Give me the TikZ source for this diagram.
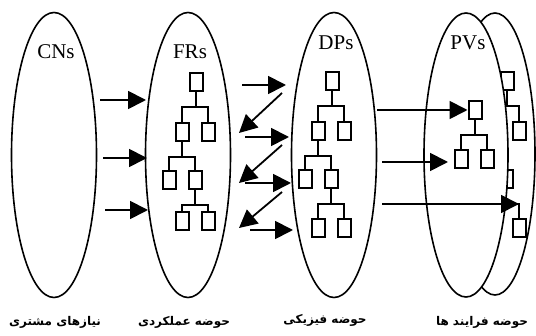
\documentclass[tikz,border=0pt]{standalone}
\usepackage{fontspec}
\setmainfont{Liberation Serif}
\newfontfamily\persianfont[Script=Arabic]{DejaVu Sans}
\TeXXeTstate=1
\usetikzlibrary{arrows.meta,shapes.geometric}

% one branch of a tree: parent, left child, right child
\newcommand\branch[3]{%
  \draw[link] (#1.south) -- ++(0,15) coordinate (#1m) -| (#2.north);
  \draw[link] (#1m) -| (#3.north);
}
% the tree of a domain: prefix, x and y of the root, depth of last row
\newcommand\domaintree[4]{%
  \node[leaf] (#1r) at (#2,#3) {};
  \node[leaf] (#1a) at (#2-14,#3+50) {};
  \node[leaf] (#1b) at (#2+12,#3+50) {};
  \node[leaf] (#1c) at (#2-27,#3+98) {};
  \node[leaf] (#1d) at (#2-1,#3+98) {};
  \node[leaf] (#1e) at (#2-14,#3+#4) {};
  \node[leaf] (#1f) at (#2+12,#3+#4) {};
  \branch{#1r}{#1a}{#1b}
  \branch{#1a}{#1c}{#1d}
  \branch{#1d}{#1e}{#1f}
}

\begin{document}
\begin{tikzpicture}[
    x=1pt, y=-1pt,
    realm/.style={ellipse, draw=black, line width=1.6pt,
        minimum width=85pt, minimum height=285pt, inner sep=0pt},
    leaf/.style={rectangle, draw=black, line width=2pt, fill=white,
        minimum width=13pt, minimum height=18pt, inner sep=0pt},
    link/.style={line width=1.5pt},
    flow/.style={line width=1.8pt, -{Triangle[length=18pt,width=18pt]}},
    title/.style={font=\fontsize{21}{23}\selectfont},
    caption/.style={font=\persianfont\bfseries\fontsize{12}{14}\selectfont}
]
    \useasboundingbox (0,0) rectangle (536,336);

    % domains
    \node[realm] (cn) at (54,155) {};
    \node[realm] (fr) at (188,155) {};
    \node[realm] (dp) at (334,155) {};
    \node[realm, minimum width=80pt, minimum height=282pt] (pvb) at (495,154) {};

    \domaintree{frt}{196}{82}{139}
    \domaintree{dpt}{332}{81}{147}
    \domaintree{pvt}{507}{81}{147}

    \node[realm, fill=white, minimum width=84pt, minimum height=284pt] (pvf) at (466,155) {};
    \node[leaf] (pvfr) at (475,110) {};
    \node[leaf] (pvfa) at (461,159) {};
    \node[leaf] (pvfb) at (487,159) {};
    \branch{pvfr}{pvfa}{pvfb}

    % titles
    \node[title] (cntitle) at (56,52) {CNs};
    \node[title] (frtitle) at (190,52) {FRs};
    \node[title] (dptitle) at (336,43) {DPs};
    \node[title] (pvtitle) at (468,43) {PVs};

    % captions
    \node[caption] (cncap) at (55,322) {\beginR نیازهای مشتری\endR};
    \node[caption] (frcap) at (184,322) {\beginR حوضه عملکردی\endR};
    \node[caption] (dpcap) at (325,320) {\beginR حوضه فیزیکی\endR};
    \node[caption] (pvcap) at (482,322) {\beginR حوضه فرایند ها\endR};

    % CNs -> FRs
    \foreach \i/\xa/\xb/\ya in {1/100/146/100, 2/103/147/158, 3/105/148/210} {
        \coordinate (cf\i s) at (\xa,\ya);
        \coordinate (cf\i e) at (\xb,\ya);
        \draw[flow] (cf\i s) -- (cf\i e);
    }

    % FRs <-> DPs
    \foreach \i/\xa/\ya/\xb/\yb in {1/242/85/286/85, 2/282/93/239/133,
        3/245/137/289/137, 4/282/145/239/183, 5/245/183/291/183,
        6/282/192/239/228, 7/250/230/293/230} {
        \coordinate (fd\i s) at (\xa,\ya);
        \coordinate (fd\i e) at (\xb,\yb);
        \draw[flow] (fd\i s) -- (fd\i e);
    }

    % DPs -> PVs
    \coordinate (dp1s) at (377,110);
    \coordinate (dp2s) at (382,162);
    \coordinate (dp2e) at (448,162);
    \coordinate (dp3s) at (382,204);
    \draw[flow] (dp1s) -- (pvfr.west);
    \draw[flow] (dp2s) -- (dp2e);
    \draw[flow] (dp3s) -- (pvtf |- pvtdm);
\end{tikzpicture}
\end{document}
